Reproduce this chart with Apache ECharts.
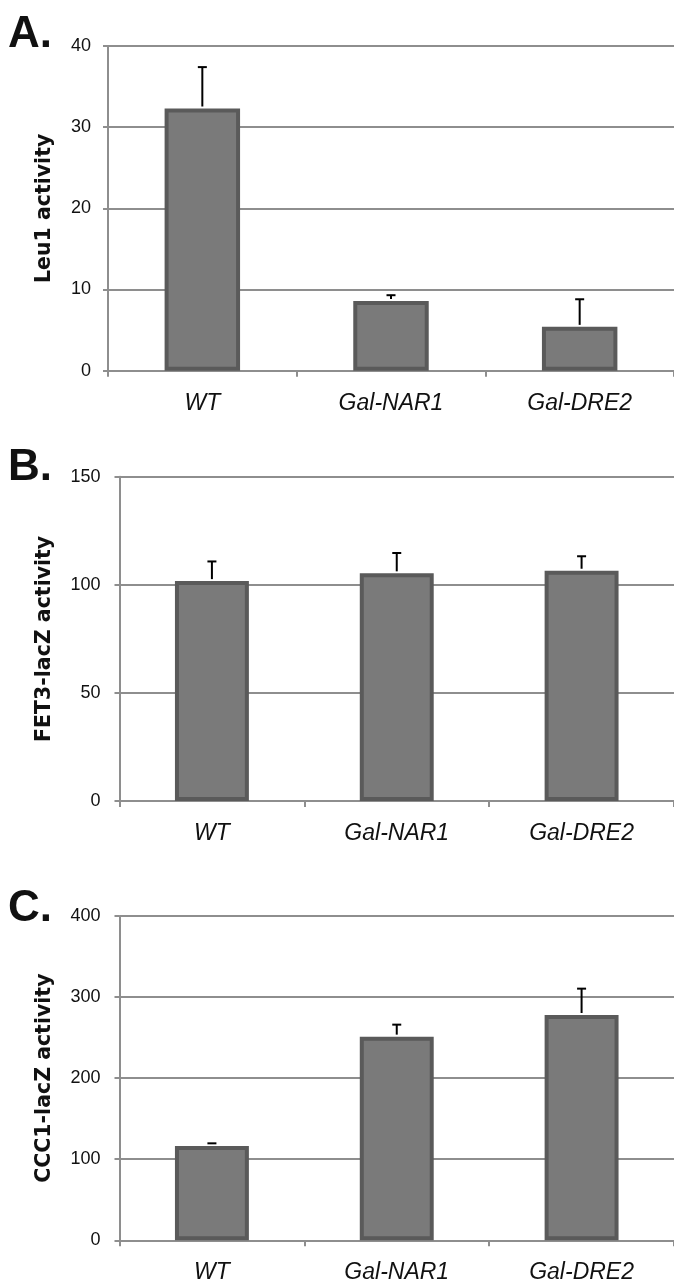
<!DOCTYPE html>
<html>
<head>
<meta charset="utf-8">
<script src="https://cdn.jsdelivr.net/npm/echarts@6/dist/echarts.min.js"></script>
<style>
html,body{margin:0;padding:0;background:#fff;}
#chart{width:674px;height:1286px;}
</style>
</head>
<body>
<div id="chart"></div>
<script>
// ---- data ----
const categories = ['WT', 'Gal-NAR1', 'Gal-DRE2'];
const leu1Values = [32.3, 8.6, 5.4];
const leu1Errors = [5.1, 0.7, 3.4];
const fet3Values = [101.7, 105.3, 106.5];
const fet3Errors = [9.1, 9.4, 6.7];
const ccc1Values = [116.3, 251.2, 277.9];
const ccc1Errors = [3.3, 14.8, 32.5];
const panelLetters = ['A.', 'B.', 'C.'];
const axisNames = ['Leu1 activity', 'FET3-lacZ activity', 'CCC1-lacZ activity'];
const yMax = [40, 150, 400];
const yInterval = [10, 50, 100];

const panels = [
  {values: leu1Values, errors: leu1Errors},
  {values: fet3Values, errors: fet3Errors},
  {values: ccc1Values, errors: ccc1Errors}
];

// ---- layout ----
const grids = [
  {left: 108, top: 46, width: 568.5, height: 324.7},
  {left: 119.5, top: 476.7, width: 556.5, height: 324.3},
  {left: 119.5, top: 916, width: 556.5, height: 324.3}
];
const nameGaps = [53, 64.5, 64.5];
const labelMargins = [17, 19, 19];
const letterTops = [13, 446, 887];

const gridColor = '#8e8e8e';
const axisFont = 'Liberation Sans';

const chart = echarts.init(document.getElementById('chart'), null, {renderer: 'canvas'});

const xAxes = [], yAxes = [], series = [], titles = [];
panels.forEach((p, i) => {
  xAxes.push({
    type: 'category', gridIndex: i, data: categories,
    axisLine: {show: true, lineStyle: {color: gridColor, width: 2}},
    axisTick: {show: true, length: 6, lineStyle: {color: gridColor, width: 2}},
    axisLabel: {fontFamily: axisFont, fontStyle: 'italic', fontSize: 23, color: '#111', margin: 21}
  });
  yAxes.push({
    type: 'value', gridIndex: i, min: 0, max: yMax[i], interval: yInterval[i],
    name: axisNames[i], nameLocation: 'middle', nameRotate: 90, nameGap: nameGaps[i],
    nameTextStyle: {fontFamily: 'DejaVu Sans', fontWeight: 'bold', fontSize: 20.5, color: '#111'},
    axisLine: {show: true, lineStyle: {color: gridColor, width: 2}},
    axisTick: {show: true, length: 5, lineStyle: {color: gridColor, width: 2}},
    axisLabel: {fontFamily: axisFont, fontSize: 18, color: '#111', margin: labelMargins[i]},
    splitLine: {show: true, lineStyle: {color: gridColor, width: 2}}
  });
  series.push({
    type: 'bar', xAxisIndex: i, yAxisIndex: i, data: p.values, barWidth: '40%',
    itemStyle: {color: '#7a7a7a', borderColor: '#5a5a5a', borderWidth: 4},
    silent: true, animation: false
  });
  series.push({
    type: 'custom', xAxisIndex: i, yAxisIndex: i, z: 10, animation: false, silent: true,
    data: p.values.map((v, j) => [j, v, v + p.errors[j]]),
    renderItem: (params, api) => {
      const base = api.coord([api.value(0), api.value(1)]);
      const top = api.coord([api.value(0), api.value(2)]);
      return {
        type: 'group',
        children: [
          {type: 'line', shape: {x1: base[0], y1: base[1] - 2, x2: base[0], y2: top[1]}, style: {stroke: '#000', lineWidth: 2}},
          {type: 'line', shape: {x1: base[0] - 4.5, y1: top[1], x2: base[0] + 4.5, y2: top[1]}, style: {stroke: '#000', lineWidth: 2}}
        ]
      };
    }
  });
  titles.push({
    text: panelLetters[i], left: 8, top: letterTops[i], padding: 0,
    textStyle: {fontFamily: axisFont, fontWeight: 'bold', fontSize: 44, color: '#111'}
  });
});

chart.setOption({
  animation: false,
  backgroundColor: '#fff',
  title: titles,
  grid: grids,
  xAxis: xAxes,
  yAxis: yAxes,
  series: series
});
</script>
</body>
</html>
